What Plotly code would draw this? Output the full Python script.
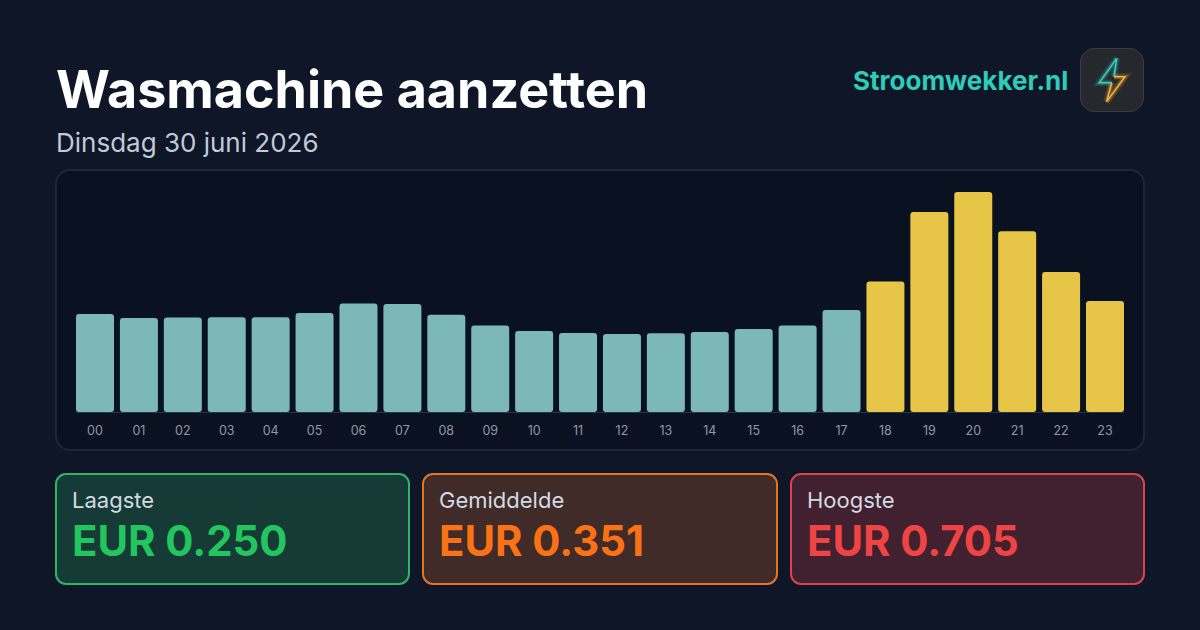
import plotly.graph_objects as go

W, H = 1200, 630

hours = [f"{h:02d}" for h in range(24)]
prices = [0.314, 0.301, 0.303, 0.304, 0.304, 0.317, 0.348, 0.346, 0.312, 0.277, 0.260, 0.253,
          0.250, 0.252, 0.256, 0.266, 0.277, 0.327, 0.418, 0.641, 0.705, 0.579, 0.449, 0.356]
peak_hours = ["18", "19", "20", "21", "22", "23"]

card_labels = ["Laagste", "Gemiddelde", "Hoogste"]
card_values = ["EUR 0.250", "EUR 0.351", "EUR 0.705"]

TEAL = "#7cb8b7"
YELLOW = "#e6c547"
FONT = "Inter"


def px(x, y):
    return x / W, 1 - y / H


def rounded(x0, y0, x1, y1, r, **kw):
    k = r * 0.45
    pts = [
        ("M", (x0 + r, y0)), ("L", (x1 - r, y0)),
        ("C", (x1 - k, y0), (x1, y0 + k), (x1, y0 + r)), ("L", (x1, y1 - r)),
        ("C", (x1, y1 - k), (x1 - k, y1), (x1 - r, y1)), ("L", (x0 + r, y1)),
        ("C", (x0 + k, y1), (x0, y1 - k), (x0, y1 - r)), ("L", (x0, y0 + r)),
        ("C", (x0, y0 + k), (x0 + k, y0), (x0 + r, y0)),
    ]
    d = ""
    for p in pts:
        d += p[0] + " ".join("{:.5f},{:.5f}".format(*px(*q)) for q in p[1:])
    return dict(type="path", xref="paper", yref="paper", path=d + "Z", **kw)


def polyline(points, color, width, opacity=1):
    d = "M" + "L".join("{:.5f},{:.5f}".format(*px(*p)) for p in points)
    return dict(type="path", xref="paper", yref="paper", path=d, opacity=opacity,
                line=dict(color=color, width=width), layer="above")


colors = [YELLOW if h in peak_hours else TEAL for h in hours]

fig = go.Figure()
# an explicit base makes plotly round all four corners
fig.add_trace(go.Bar(x=hours, y=prices, base=0, marker_color=colors,
                     marker_line_width=0, marker_cornerradius=3))

shapes = [
    rounded(56, 170, 1144, 450, 14, fillcolor="#0a1221", line=dict(color="#1c2738", width=2), layer="below"),
    rounded(56, 474, 409, 584, 10, fillcolor="#163a35", line=dict(color="#2fb568", width=2), layer="below"),
    rounded(423, 474, 777, 584, 10, fillcolor="#412b28", line=dict(color="#e0752a", width=2), layer="below"),
    rounded(791, 474, 1144, 584, 10, fillcolor="#412130", line=dict(color="#d9434a", width=2), layer="below"),
    rounded(1080.5, 48.5, 1143.5, 111.5, 14, fillcolor="#25282c", line=dict(color="#3a3f47", width=1), layer="below"),
]
bolt_top = [(1114, 76.7), (1116.7, 58.3), (1099.3, 82.7), (1111.7, 82.7)]
bolt_low = [(1111.7, 82.7), (1106.7, 101.7), (1125, 76.7), (1114, 76.7)]
shapes += [
    polyline(bolt_top, "#2dd4bf", 7, 0.14),
    polyline(bolt_low, "#f5a623", 7, 0.14),
    polyline(bolt_top, "#2dd4bf", 4, 0.28),
    polyline(bolt_low, "#f5a623", 4, 0.28),
    polyline(bolt_top, "#3fd0c0", 1.4),
    polyline(bolt_low, "#f3b44a", 1.4),
]

annotations = [
    dict(x=55.5 / W, y=1 - 89.5 / H, text="Wasmachine aanzetten", xanchor="left", yanchor="middle",
         font=dict(family=FONT, size=52, color="#ffffff", weight=700)),
    dict(x=56 / W, y=1 - 143 / H, text="Dinsdag 30 juni 2026", xanchor="left", yanchor="middle",
         font=dict(family=FONT, size=26, color="#c0cad8")),
    dict(x=1068 / W, y=1 - 81 / H, text="Stroomwekker.nl", xanchor="right", yanchor="middle",
         font=dict(family=FONT, size=26, color="#2fcdb9", weight=700)),
]
card_x = [72, 439, 807]
value_colors = ["#22c55e", "#f97316", "#ef4444"]
for cx, label, value, vc in zip(card_x, card_labels, card_values, value_colors):
    annotations.append(dict(x=cx / W, y=1 - 500.5 / H, text=label, xanchor="left", yanchor="middle",
                            font=dict(family=FONT, size=22, color="#d3dae3")))
    annotations.append(dict(x=cx / W, y=1 - 541 / H, text=value, xanchor="left", yanchor="middle",
                            font=dict(family=FONT, size=41.8, color=vc, weight=700)))
for a in annotations:
    a.update(xref="paper", yref="paper", showarrow=False, borderpad=0, borderwidth=0)

fig.update_layout(
    width=W, height=H,
    margin=dict(l=0, r=0, t=0, b=0),
    paper_bgcolor="#0e1628",
    plot_bgcolor="rgba(0,0,0,0)",
    bargap=0.1347,
    showlegend=False,
    shapes=shapes,
    annotations=annotations,
    xaxis=dict(
        domain=[76 / W, 1124 / W], type="category", range=[-0.4327, 23.4327],
        tickmode="array", tickvals=hours, ticktext=hours, showgrid=False, zeroline=False,
        showline=True, linecolor="#2a3648", linewidth=1, ticks="outside", ticklen=7,
        tickcolor="rgba(0,0,0,0)", tickfont=dict(family=FONT, size=12.5, color="#8f98a6"),
    ),
    yaxis=dict(
        domain=[1 - 412 / H, 1 - 170 / H], range=[0, 0.7756], visible=False,
    ),
)

fig.write_html("out.html", config={"displayModeBar": False},
               post_script="document.body.style.margin='0';document.body.style.overflow='hidden';")
